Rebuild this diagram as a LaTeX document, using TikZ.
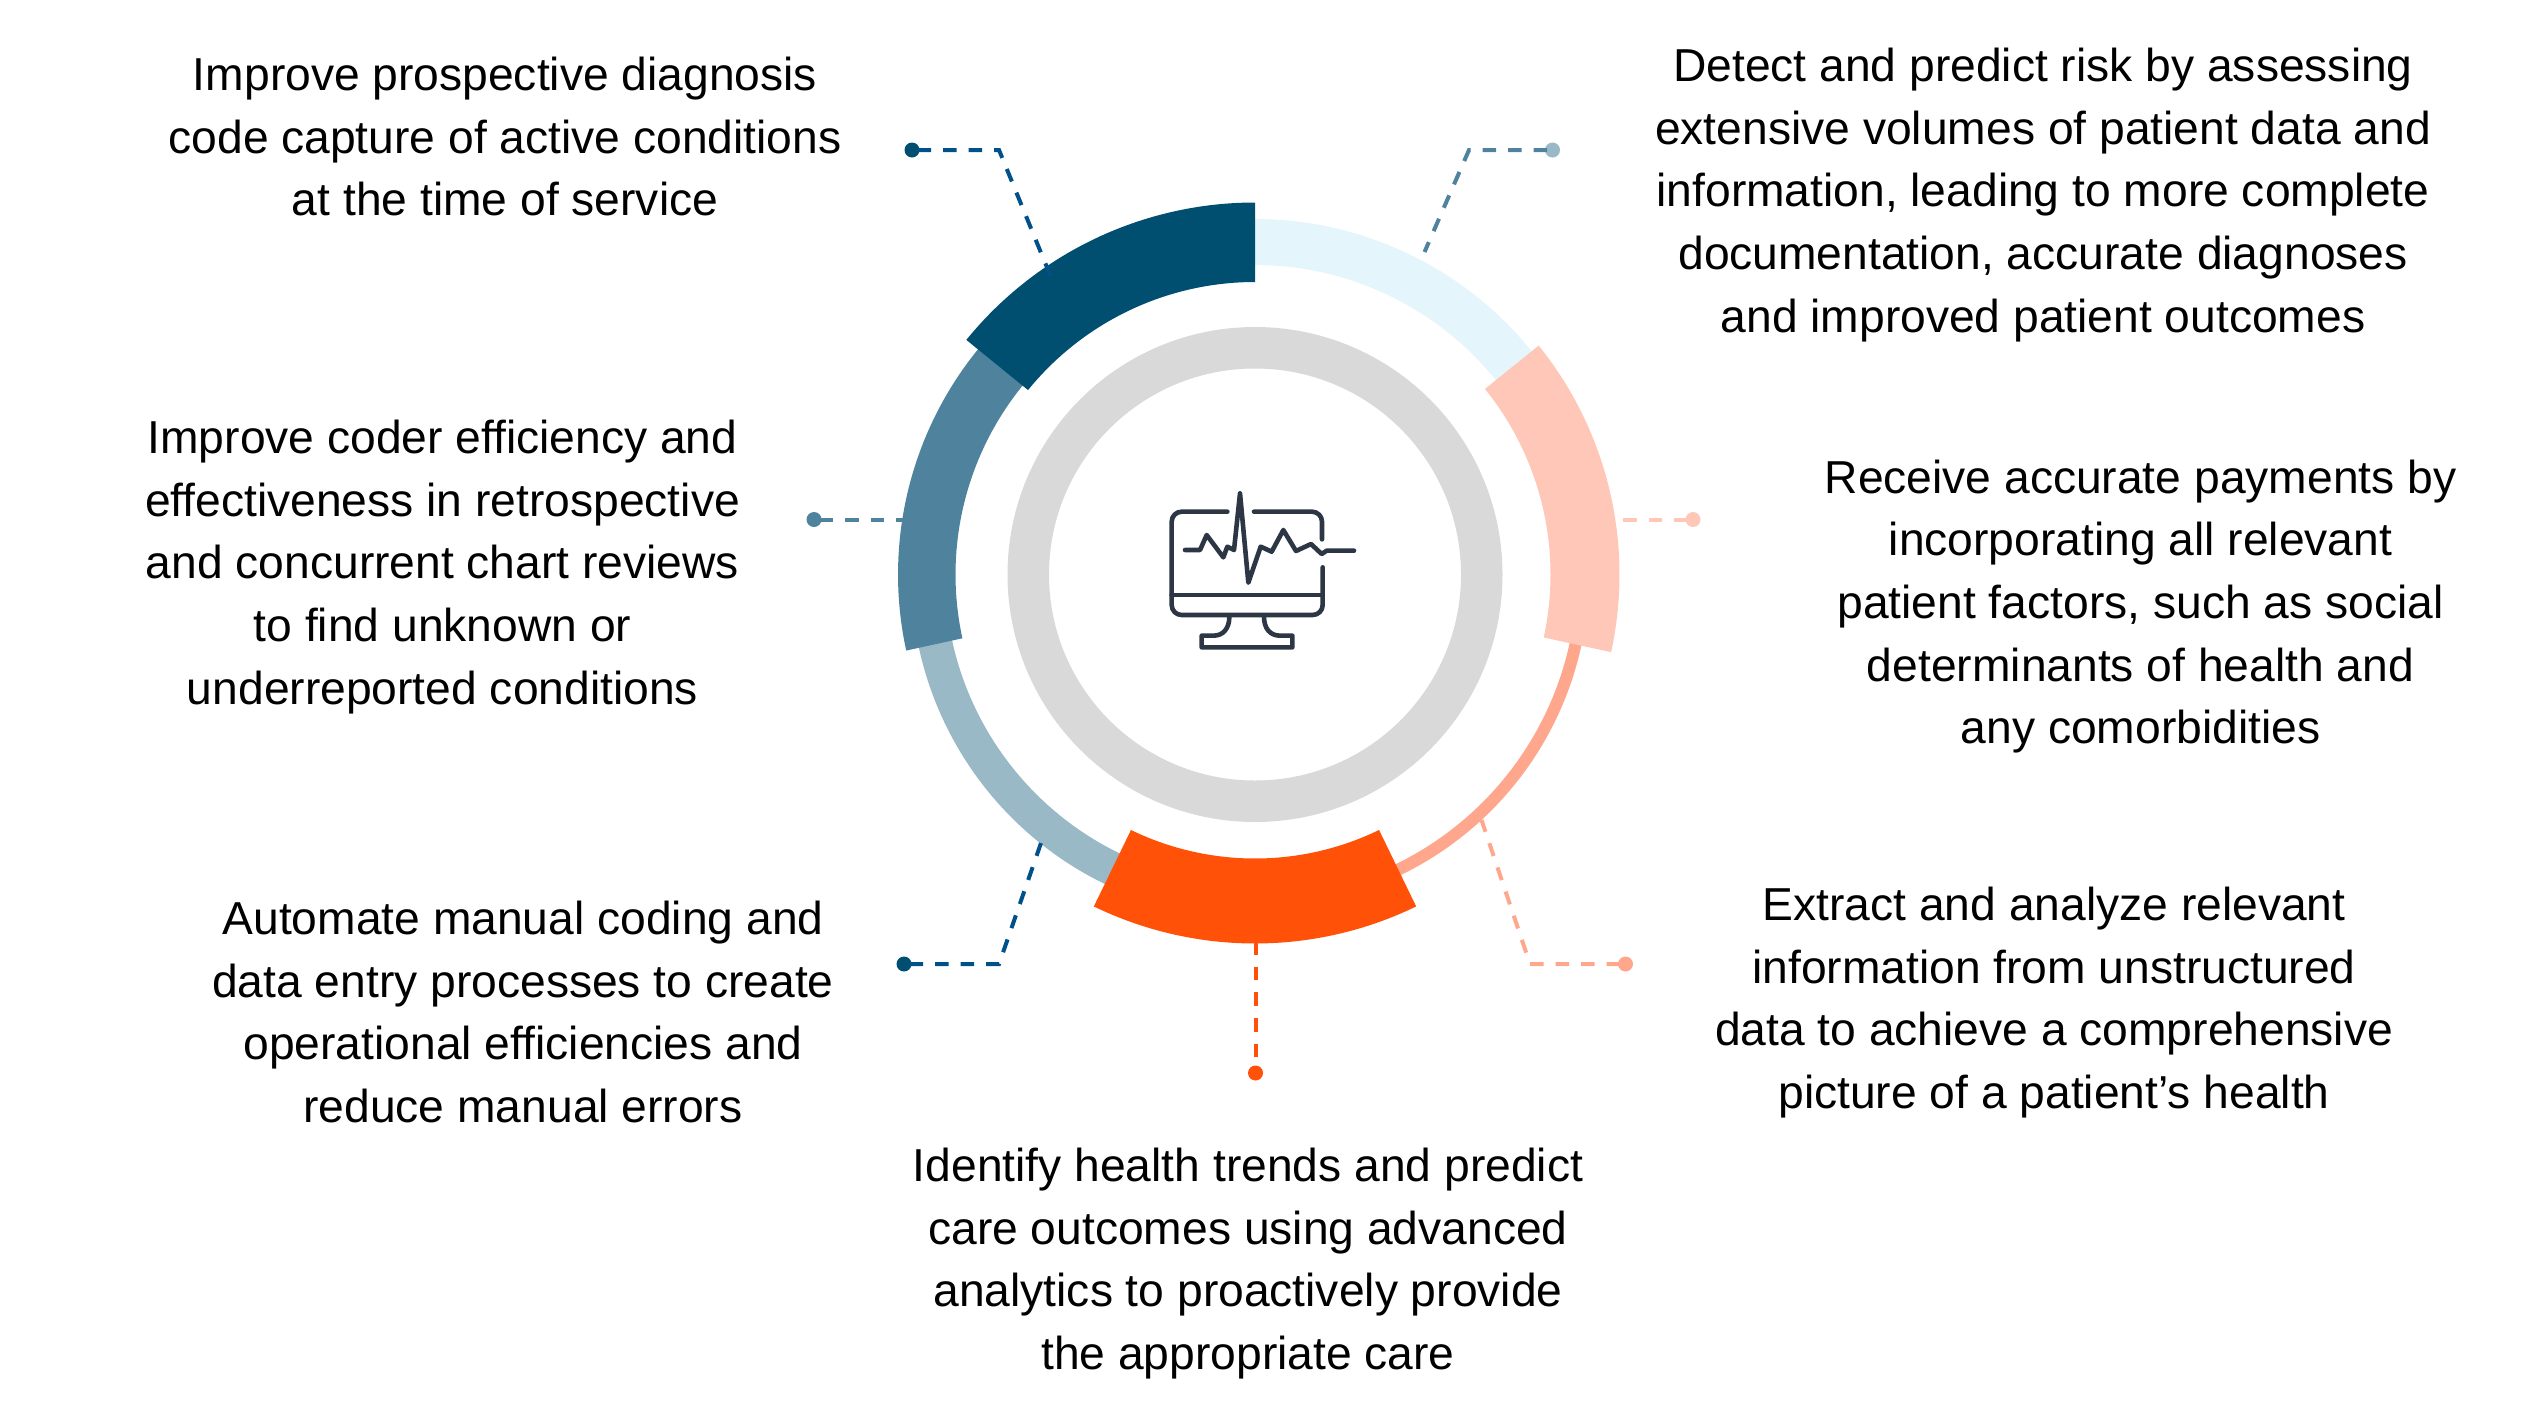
\documentclass[tikz,border=0pt]{standalone}
\usepackage{fontspec}
\setmainfont{Liberation Sans}
\definecolor{cDark}{HTML}{004F71}
\definecolor{cDash}{HTML}{00508A}
\definecolor{cMid}{HTML}{4F829C}
\definecolor{cPale}{HTML}{9AB9C7}
\definecolor{cIce}{HTML}{E4F5FB}
\definecolor{cSalmon}{HTML}{FFC7B7}
\definecolor{cCoral}{HTML}{FFA78C}
\definecolor{cOrange}{HTML}{FF5208}
\definecolor{cGrey}{HTML}{D9D9D9}
\definecolor{cIcon}{HTML}{2C3645}
\newcommand{\ringseg}[5]{\fill[#5] (#3:#2pt) arc[start angle=#3,end angle=#4,radius=#2pt] -- (#4:#1pt) arc[start angle=#4,end angle=#3,radius=#1pt] -- cycle;}
\tikzset{
  caption/.style={align=center,text=black,inner sep=0pt,font=\fontsize{46.2}{62.6}\selectfont},
  dotnode/.style={circle,fill=#1,draw=none,minimum size=15pt,inner sep=0pt},
  leader/.style={draw=#1,line width=4pt},
  dashA/.style={dash pattern=on 13.5pt off 12pt,dash phase=20pt},
  iconline/.style={draw=cIcon,line width=4.6pt,line cap=round,line join=round}
}
\begin{document}
\begin{tikzpicture}[x=1pt,y=-1pt]
\useasboundingbox (0,0) rectangle (2547,1401);
% connector ends
\node[dotnode=cDark] (dTL) at (912,150) {};
\node[dotnode=cPale] (dTR) at (1552.5,150) {};
\node[dotnode=cMid] (dL) at (814,519.5) {};
\node[dotnode=cSalmon] (dR) at (1693,519.5) {};
\node[dotnode=cDark] (dBL) at (904,964) {};
\node[dotnode=cCoral] (dBR) at (1625.5,964) {};
\node[dotnode=cOrange] (dB) at (1255.5,1073) {};
\coordinate (bTL) at (999,150);
\coordinate (eTL) at (1055,287);
\coordinate (bTR) at (1469,150);
\coordinate (eTR) at (1424.5,252);
\coordinate (eL) at (920,519.5);
\coordinate (eR) at (1600,519.5);
\coordinate (bBL) at (999,964);
\coordinate (eBL) at (1041,843);
\coordinate (bBR) at (1530,964);
\coordinate (eBR) at (1481.5,820);
\coordinate (eB) at (1255.5,941);
% these two run under the ring
\draw[leader=cMid,dashA] (dL.center) -- (eL);
\draw[leader=cSalmon,dashA] (dR.center) -- (eR);
% rings
\begin{scope}[shift={(1255,574.5)},x=1pt,y=1pt]
  \draw[cGrey,line width=41.5pt] (0,0) circle[radius=226.75pt];
  \ringseg{309.5}{355.5}{90}{38}{cIce}
  \ringseg{322}{334}{-11}{-66}{cCoral}
  \ringseg{310}{344}{192}{246}{cPale}
  \ringseg{299.5}{357}{138}{192.3}{cMid}
  \ringseg{292.5}{372}{90}{140.9}{cDark}
  \ringseg{295.5}{364.5}{38.9}{-12.3}{cSalmon}
  \ringseg{284}{369}{244.1}{295.9}{cOrange}
\end{scope}
\draw[leader=cDash,dashA] (dTL.center) -- (bTL) -- (eTL);
\draw[leader=cMid,dashA] (dTR.center) -- (bTR) -- (eTR);
\draw[leader=cDash,dashA] (dBL.center) -- (bBL) -- (eBL);
\draw[leader=cCoral,dashA] (dBR.center) -- (bBR) -- (eBR);
\draw[leader=cOrange,dash pattern=on 13.5pt off 12.2pt] (eB) -- (dB.center);
% icon
\begin{scope}[shift={(1130,480)},x=0.33333pt,y=-0.33333pt]
  \draw[iconline] (292,95) -- (155,95) arc[start angle=90,end angle=180,radius=10pt] -- (125,375) arc[start angle=180,end angle=270,radius=10pt] -- (548,405) arc[start angle=270,end angle=360,radius=10pt] -- (578,262);
  \draw[iconline] (372,95) -- (546,95) arc[start angle=90,end angle=0,radius=10pt] -- (576,178);
  \draw[iconline] (125,345) -- (576,345);
  \draw[iconline] (298,410) .. controls (298,445) and (280,467) .. (250,467) -- (215,467) -- (215,502) -- (487,502) -- (487,467) -- (450,467) .. controls (420,467) and (402,445) .. (402,410);
  \draw[iconline] (165,210) -- (210,210) -- (230,165) -- (280,232) -- (292,200) -- (312,210) -- (330,40) -- (355,308) -- (392,200) -- (425,215) -- (460,150) -- (498,213) -- (543,192) -- (575,222) -- (590,212) -- (672,212);
\end{scope}
% captions
\node[caption] (tTL) at (505,136.5) {Improve prospective diagnosis\\code capture of active conditions\\at the time of service};
\node[caption] (tTR) at (2043,195) {Detect and predict risk by assessing\\extensive volumes of patient data and\\information, leading to more complete\\documentation, accurate diagnoses\\and improved patient outcomes};
\node[caption] (tR) at (2140.5,606.5) {Receive accurate payments by\\incorporating all relevant\\patient factors, such as social\\determinants of health and\\any comorbidities};
\node[caption] (tBR) at (2054,1002.5) {Extract and analyze relevant\\information from unstructured\\data to achieve a comprehensive\\picture of a patient’s health};
\node[caption] (tB) at (1248,1263.5) {Identify health trends and predict\\care outcomes using advanced\\analytics to proactively provide\\the appropriate care};
\node[caption] (tBL) at (523,1012) {Automate manual coding and\\data entry processes to create\\operational efficiencies and\\reduce manual errors};
\node[caption] (tL) at (442.5,567) {Improve coder efficiency and\\effectiveness in retrospective\\and concurrent chart reviews\\to find unknown or\\underreported conditions};
\end{tikzpicture}
\end{document}
